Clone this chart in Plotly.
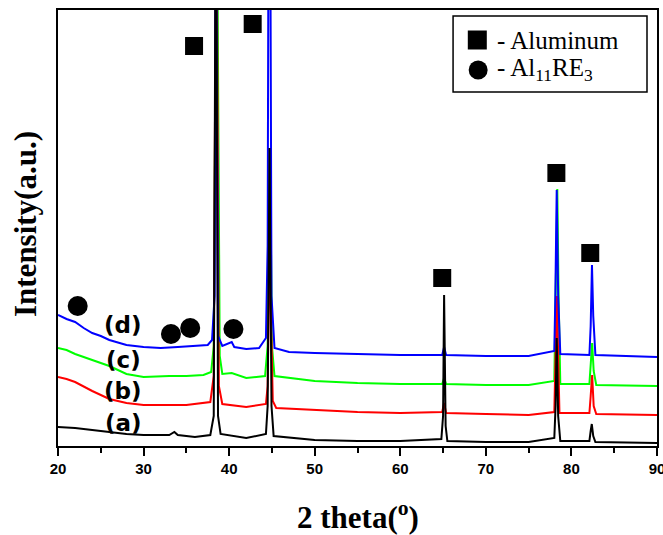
import plotly.graph_objects as go

# ---------------- data (intensity in arbitrary units, offset traces) ----------------
x_a = [20, 22, 25, 28, 30, 33, 33.6, 34, 36, 37.8, 38.2, 38.45, 38.7, 39.0, 42, 44.3, 44.5, 44.72, 44.95, 45.2,
       50, 55, 60, 64.8, 65.0, 65.12, 65.3, 65.5, 70, 75, 78.0, 78.15, 78.28, 78.45, 78.7,
       82.1, 82.25, 82.38, 82.55, 82.8, 90]
y_a = [19, 18, 15, 12, 11, 11, 14, 11, 9, 11, 30, 600, 30, 12, 8, 12, 40, 298, 40, 10,
       6, 5, 5, 7, 30, 151, 20, 5, 4, 4, 8, 40, 108, 30, 5,
       5, 15, 22, 10, 4, 3]

x_b = [20, 21, 22, 24, 26, 28, 30, 33, 35, 37.8, 38.2, 38.5, 38.8, 39.2, 42, 44.3, 44.5, 44.72, 45.1, 45.5,
       50, 55, 60, 64.9, 65.12, 65.35, 70, 75, 78.0, 78.3, 78.6, 82.1, 82.25, 82.42, 82.6, 82.9, 90]
y_b = [69, 67, 64, 55, 47, 43, 41, 41, 41, 44, 70, 600, 60, 42, 39, 42, 60, 200, 45, 38,
       36, 34, 33, 34, 43, 33, 32, 31, 34, 150, 33, 33, 50, 71, 40, 32, 31]

x_c = [20, 21, 22, 24, 26, 28, 30, 33, 35, 37, 37.9, 38.2, 38.55, 38.9, 39.2, 40.3, 42, 44.2, 44.5, 44.78, 45.0, 45.3,
       50, 55, 60, 64.9, 65.12, 65.35, 70, 75, 78.0, 78.15, 78.35, 78.5, 78.7, 82.1, 82.25, 82.42, 82.6, 82.9, 90]
y_c = [98, 96, 92, 86, 80, 72, 69, 70, 70, 71, 74, 100, 600, 90, 72, 73, 68, 70, 100, 296, 100, 70,
       65, 63, 62, 62, 68, 62, 61, 61, 65, 150, 257, 150, 62, 62, 80, 103, 75, 61, 60]

x_d = [20, 21, 22, 23, 24, 25, 26, 28, 30, 32, 34, 36, 37.5, 38.0, 38.3, 38.45, 38.7, 39.2, 40.3, 40.6, 42, 43.5,
       44.3, 44.5, 44.62, 44.78, 44.95, 45.3, 47, 50, 55, 60, 64.9, 65.12, 65.35, 70, 75,
       78.0, 78.12, 78.28, 78.45, 78.7, 82.1, 82.25, 82.4, 82.55, 82.8, 90]
y_d = [131, 127, 124, 118, 113, 110, 106, 101, 99, 98, 99, 100, 101, 106, 150, 600, 110, 100, 104, 99, 97, 98,
       108, 200, 600, 600, 150, 98, 94, 93, 92, 91, 91, 99, 91, 90, 90,
       95, 150, 256, 150, 92, 91, 120, 181, 130, 91, 89]

# phase markers
al_x = [35.9, 42.75, 64.9, 78.24, 82.2]
al_y = [400, 422, 168, 273, 193]
re_x = [22.3, 33.2, 35.45, 40.5]
re_y = [140, 112, 118, 117]

sample_labels = ["(a)", "(b)", "(c)", "(d)"]
xticks = [20, 30, 40, 50, 60, 70, 80, 90]

# ---------------- figure ----------------
fig = go.Figure()
for xs, ys, col in [(x_c, y_c, "#00ff00"), (x_b, y_b, "#ff0000"), (x_d, y_d, "#0000ff"), (x_a, y_a, "#000000")]:
    fig.add_trace(go.Scatter(x=xs, y=ys, mode="lines", line=dict(color=col, width=2), showlegend=False))

fig.add_trace(go.Scatter(x=al_x, y=al_y, mode="markers", showlegend=False,
                         marker=dict(symbol="square", size=18, color="#000000", opacity=1,
                                     line=dict(width=0))))
fig.add_trace(go.Scatter(x=re_x, y=re_y, mode="markers", showlegend=False,
                         marker=dict(symbol="circle", size=20, color="#000000", opacity=1,
                                     line=dict(width=0))))
# legend symbols
fig.add_trace(go.Scatter(x=[69.0, 69.1], y=[406, 376], mode="markers", showlegend=False, cliponaxis=False,
                         marker=dict(symbol=["square", "circle"], size=[19, 19], color="#000000", opacity=1,
                                     line=dict(width=0))))

ann = []
label_y = [23, 55, 86, 121]
for t, yy in zip(sample_labels, label_y):
    ann.append(dict(x=27.6, y=yy, xref="x", yref="y", text=t, showarrow=False,
                    font=dict(family="DejaVu Sans", size=23, color="black", weight="bold")))
ann.append(dict(x=0.73, y=(446 - 40) / 436, xref="paper", yref="paper", text="- Aluminum", showarrow=False,
                xanchor="left", yanchor="middle",
                font=dict(family="Liberation Serif", size=25, color="black")))
ann.append(dict(x=0.73, y=(446 - 70) / 436, xref="paper", yref="paper",
                text="- Al<sub>11</sub>RE<sub>3</sub>", showarrow=False, xanchor="left", yanchor="middle",
                font=dict(family="Liberation Serif", size=25, color="black")))
ann.append(dict(x=0.5, y=-69 / 436, xref="paper", yref="paper", text="2 theta(<sup>o</sup>)", showarrow=False,
                xanchor="center", yanchor="middle",
                font=dict(family="Liberation Serif", size=31, color="black", weight="bold")))
ann.append(dict(x=-33 / 599.2, y=(446 - 224) / 436, xref="paper", yref="paper", text="Intensity(a.u.)",
                showarrow=False, textangle=-90, xanchor="center", yanchor="middle",
                font=dict(family="Liberation Serif", size=31, color="black", weight="bold")))

fig.update_layout(
    width=663, height=535, autosize=False,
    margin=dict(l=58, r=6, t=10, b=89, pad=0, autoexpand=False),
    paper_bgcolor="white", plot_bgcolor="white",
    annotations=ann,
    shapes=[dict(type="rect", xref="paper", yref="paper",
                 x0=(453 - 57.8) / 599.2, x1=(647 - 57.8) / 599.2,
                 y0=(446 - 92) / 436, y1=(446 - 16) / 436,
                 line=dict(color="black", width=1.5), fillcolor="rgba(0,0,0,0)")],
)
fig.update_xaxes(range=[20, 90], tickvals=xticks, ticktext=[str(v) for v in xticks], automargin=False,
                 ticks="outside", ticklen=8, tickwidth=2, tickcolor="black", ticklabeloverflow="allow",
                 minor=dict(dtick=5, tick0=25, ticks="outside", ticklen=5, tickwidth=2, tickcolor="black"),
                 showline=True, linecolor="black", linewidth=2, mirror=True, showgrid=False, zeroline=False,
                 tickfont=dict(family="Liberation Sans", size=15, color="black", weight="bold"))
fig.update_yaxes(range=[0, 436], showticklabels=False, ticks="", showline=True, linecolor="black",
                 automargin=False, linewidth=2, mirror=True, showgrid=False, zeroline=False)

fig.write_html("out.html", config={"displayModeBar": False, "responsive": False},
               post_script="document.body.style.margin='0px';document.body.style.overflow='hidden';")
